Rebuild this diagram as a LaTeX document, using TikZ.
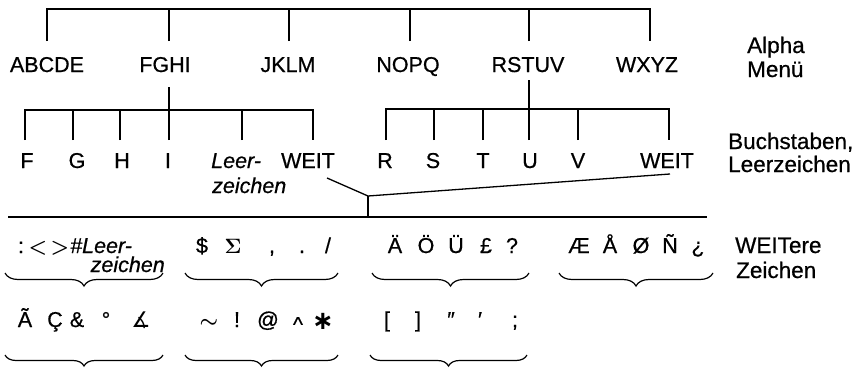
\documentclass[tikz,border=0pt]{standalone}
\usepackage{bm}
\usepackage{fontspec}
\setmainfont{Liberation Sans}[RawFeature={embolden=0.6}]
\newfontfamily\dejavu{DejaVu Sans}
\usetikzlibrary{decorations.pathreplacing}
\begin{document}
\begin{tikzpicture}[x=1pt,y=-1pt,
  ln/.style={line width=1.3pt},
  lbl/.style={inner sep=0pt, font=\fontsize{21.5}{25}\selectfont, anchor=base},
  lblw/.style={lbl, anchor=base west},
  side/.style={lblw, font=\fontsize{22.5}{25}\selectfont},
  ital/.style={font=\fontsize{21.5}{25}\selectfont\itshape},
  brc/.style={line width=1.2pt, decorate, decoration={brace, amplitude=#1}},
  brc/.default=13pt]
\useasboundingbox (0,0) rectangle (865,367);
% --- Alpha menu
\node[lbl] (ABCDE) at (47,72) {ABCDE};
\node[lbl] (FGHI) at (165,72) {FGHI};
\node[lbl] (JKLM) at (288,72) {JKLM};
\node[lbl] (NOPQ) at (408,72) {NOPQ};
\node[lbl] (RSTUV) at (528,72) {RSTUV};
\node[lbl] (WXYZ) at (647,72) {WXYZ};
\coordinate (tbar) at (0,9);
\coordinate (tA) at (47,41);
\coordinate (tB) at (169,41);
\coordinate (tC) at (289,41);
\coordinate (tD) at (410,41);
\coordinate (tE) at (529,41);
\coordinate (tF) at (650,41);
\draw[ln] (tA) |- (tF|-tbar) -- (tF);
\foreach \c in {tB,tC,tD,tE} \draw[ln] (\c) -- (\c|-tbar);
% --- left sub tree
\coordinate (fgT) at (169,87);
\coordinate (sbar) at (0,110);
\coordinate (sA) at (25,140);
\coordinate (sB) at (73,140);
\coordinate (sC) at (120,140);
\coordinate (sD) at (169,140);
\coordinate (sE) at (242,140);
\coordinate (sF) at (313,140);
\draw[ln] (fgT) -- (fgT|-sbar);
\draw[ln] (sA) |- (sF|-sbar) -- (sF);
\foreach \c in {sB,sC,sD,sE} \draw[ln] (\c) -- (\c|-sbar);
% --- right sub tree
\coordinate (rsT) at (529,80);
\coordinate (rbar) at (0,109);
\coordinate (rA) at (386,140);
\coordinate (rB) at (434,140);
\coordinate (rC) at (483,140);
\coordinate (rD) at (529,140);
\coordinate (rE) at (578,140);
\coordinate (rF) at (669,140);
\draw[ln] (rsT) -- (rsT|-rbar);
\draw[ln] (rA) |- (rF|-rbar) -- (rF);
\foreach \c in {rB,rC,rD,rE} \draw[ln] (\c) -- (\c|-rbar);
% --- letters
\node[lbl] (F) at (27,168) {F};
\node[lbl] (G) at (77,168) {G};
\node[lbl] (H) at (122,168) {H};
\node[lbl] (I) at (168,168) {I};
\node[lblw, ital] (leer1) at (211,168) {Leer-};
\node[lblw, ital] (leer2) at (212,193) {zeichen};
\node[lbl] (weitL) at (308,168) {WEIT};
\node[lbl] (R) at (385,168) {R};
\node[lbl] (S) at (433,168) {S};
\node[lbl] (T) at (483,168) {T};
\node[lbl] (U) at (530,168) {U};
\node[lbl] (V) at (578,168) {V};
\node[lbl] (weitR) at (667,168) {WEIT};
% --- WEIT connectors
\coordinate (w1) at (327,178);
\coordinate (jn) at (368,196);
\coordinate (w2) at (670,174);
\coordinate (jb) at (368,217);
\coordinate (hl) at (8,217);
\coordinate (hr) at (707,217);
\draw[ln] (w1) -- (jn) -- (w2);
\draw[ln] (jn) -- (jb);
\draw[ln] (hl) -- (hr);
% --- right labels
\node[side] (alpha) at (747,53) {Alpha};
\node[side] (menu) at (747,77) {Menü};
\node[side] (buch) at (728,149) {Buchstaben,};
\node[side] (leerz) at (728,172) {Leerzeichen};
\node[side] (weiter) at (735,253) {WEITere};
\node[side] (zeich) at (736,278) {Zeichen};
% --- row 1 symbols
\node[lbl] (c1) at (21,253) {:};
\node[lbl] (c2) at (38,253) {$\bm{<}$};
\node[lbl] (c3) at (60,253) {$\bm{>}$};
\node[lblw, ital] (c4) at (70,253) {\#Leer-};
\node[lbl, anchor=base east, ital] (c5) at (165,272) {zeichen};
\node[lbl] (d1) at (202,253) {\$};
\node[lbl] (d2) at (233,253) {$\bm{\Sigma}$};
\node[lbl] (d3) at (272,253) {,};
\node[lbl] (d4) at (302,253) {.};
\node[lbl] (d5) at (328,253) {/};
\node[lbl] (e1) at (395,253) {Ä};
\node[lbl] (e2) at (426,253) {Ö};
\node[lbl] (e3) at (456,253) {Ü};
\node[lbl] (e4) at (486,253) {£};
\node[lbl] (e5) at (512,253) {?};
\node[lbl] (f1) at (579,253) {Æ};
\node[lbl] (f2) at (610,253) {Å};
\node[lbl] (f3) at (641,253) {Ø};
\node[lbl] (f4) at (670,253) {Ñ};
\node[lbl] (f5) at (698,253) {¿};
% --- row 2 symbols
\node[lbl] (g1) at (25,327) {Ã};
\node[lbl] (g2) at (55,327) {Ç};
\node[lbl] (g3) at (77,327) {\&};
\node[lbl] (g4) at (106,327) {°};
\node[lbl] (g5) at (141,327) {\dejavu ∡};
\node[lbl] (h1) at (209,327) {$\bm{\sim}$};
\node[lbl] (h2) at (237,327) {!};
\node[lbl] (h3) at (268,327) {@};
\node[lbl] (h4) at (298,327) {\raisebox{-5pt}{\^{}}};
\node[lbl] (h5) at (323,327) {\raisebox{-2pt}{\scalebox{1.2}{\dejavu\bfseries ∗}}};
\node[lbl] (k1) at (387,327) {[};
\node[lbl] (k2) at (418,327) {]};
\node[lbl] (k3) at (451,327) {″};
\node[lbl] (k4) at (480,327) {′};
\node[lbl] (k5) at (515,327) {;};
% --- braces
\coordinate (b1l) at (5,273);   \coordinate (b1r) at (163,273);
\coordinate (b2l) at (185,273); \coordinate (b2r) at (338,273);
\coordinate (b3l) at (372,273); \coordinate (b3r) at (529,273);
\coordinate (b4l) at (559,273); \coordinate (b4r) at (713,273);
\coordinate (b5l) at (5,355);   \coordinate (b5r) at (163,355);
\coordinate (b6l) at (185,355); \coordinate (b6r) at (338,355);
\coordinate (b7l) at (370,355); \coordinate (b7r) at (527,355);
\foreach \b in {b1,b2,b3,b4} \draw[brc] (\b r) -- (\b l);
\foreach \b in {b5,b6,b7} \draw[brc=11pt] (\b r) -- (\b l);
\end{tikzpicture}
\end{document}
